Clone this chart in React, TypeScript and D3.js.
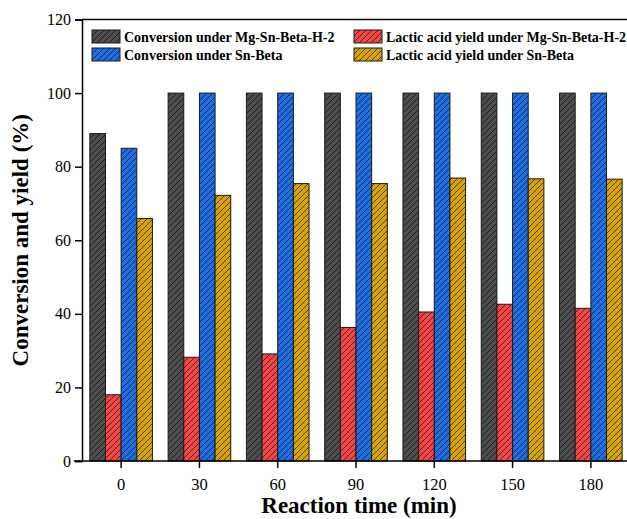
// App.tsx
import React, { useEffect, useRef } from "react";
import * as d3 from "d3";

const times = ["0", "30", "60", "90", "120", "150", "180"];
const convMg = [89, 100, 100, 100, 100, 100, 100];
const yieldMg = [18, 28.2, 29.1, 36.3, 40.5, 42.6, 41.5];
const convSn = [85, 100, 100, 100, 100, 100, 100];
const yieldSn = [65.9, 72.2, 75.4, 75.4, 76.9, 76.7, 76.6];
const yTicks = [0, 20, 40, 60, 80, 100, 120];

const seriesNames = [
  "Conversion under Mg-Sn-Beta-H-2",
  "Lactic acid yield under Mg-Sn-Beta-H-2",
  "Conversion under Sn-Beta",
  "Lactic acid yield under Sn-Beta",
];
const seriesValues = [convMg, yieldMg, convSn, yieldSn];
const colors = ["#4d4d4d", "#f44646", "#1f6fe2", "#d6a204"];

const App = () => {
  const ref = useRef<SVGSVGElement | null>(null);

  useEffect(() => {
    drawChart();
  }, []);

  const drawChart = () => {
    const width = 627;
    const left = 82;
    const top = 19.5;
    const bottom = 461;
    const right = 630;

    const svg = d3.select(ref.current);
    svg.selectAll("*").remove();

    const font = "'Liberation Serif', 'Times New Roman', serif";

    // hatch patterns, one per colour
    const defs = svg.append("defs");
    colors.forEach((c, i) => {
      const p = defs
        .append("pattern")
        .attr("id", `hatch${i}`)
        .attr("patternUnits", "userSpaceOnUse")
        .attr("width", 6)
        .attr("height", 6);
      p.append("rect").attr("width", 6).attr("height", 6).attr("fill", c);
      p.append("path")
        .attr("d", "M0,6 L6,0 M-1.5,1.5 L1.5,-1.5 M4.5,7.5 L7.5,4.5")
        .attr("stroke", "#000")
        .attr("stroke-opacity", 0.75)
        .attr("stroke-width", 0.8);
    });

    const x = d3
      .scaleBand()
      .domain(times)
      .range([left, right])
      .paddingInner(0.2)
      .paddingOuter(0.1);

    const xSub = d3
      .scaleBand()
      .domain(seriesNames)
      .range([0, x.bandwidth()])
      .padding(0);

    const y = d3.scaleLinear().domain([0, 120]).range([bottom, top]);

    // bars
    seriesValues.forEach((vals, si) => {
      svg
        .append("g")
        .selectAll("rect")
        .data(vals)
        .enter()
        .append("rect")
        .attr("x", (d, i) => (x(times[i]) as number) + (xSub(seriesNames[si]) as number))
        .attr("y", (d) => y(d))
        .attr("width", xSub.bandwidth())
        .attr("height", (d) => y(0) - y(d))
        .attr("fill", `url(#hatch${si})`)
        .attr("stroke", "#1a1a1a")
        .attr("stroke-width", 1);
    });

    // frame top line
    svg
      .append("line")
      .attr("x1", left)
      .attr("x2", width + 10)
      .attr("y1", top)
      .attr("y2", top)
      .attr("stroke", "#000")
      .attr("stroke-width", 1.5);

    // y axis
    const yAxis = svg
      .append("g")
      .attr("transform", `translate(${left},0)`)
      .call(d3.axisLeft(y).tickValues(yTicks).tickSize(7).tickPadding(4));
    yAxis.select(".domain").attr("stroke-width", 1.5);
    yAxis.selectAll(".tick line").attr("stroke-width", 1.5);
    yAxis
      .selectAll("text")
      .attr("font-family", font)
      .attr("font-size", 16)
      .attr("fill", "#000");

    // x axis
    const xAxis = svg
      .append("g")
      .attr("transform", `translate(0,${bottom})`)
      .call(d3.axisBottom(x).tickSize(7).tickSizeOuter(0).tickPadding(10));
    xAxis.select(".domain").attr("stroke-width", 1.5).attr("d", `M${left - 8},0H${width + 10}`);
    xAxis.selectAll(".tick line").attr("stroke-width", 1.5);
    xAxis
      .selectAll("text")
      .attr("font-family", font)
      .attr("font-size", 16.5)
      .attr("fill", "#000");

    // axis titles
    svg
      .append("text")
      .attr("x", 359)
      .attr("y", 513)
      .attr("text-anchor", "middle")
      .attr("font-family", font)
      .attr("font-weight", "bold")
      .attr("font-size", 23)
      .text("Reaction time (min)");

    svg
      .append("text")
      .attr("transform", `translate(28,${(top + bottom) / 2}) rotate(-90)`)
      .attr("text-anchor", "middle")
      .attr("font-family", font)
      .attr("font-weight", "bold")
      .attr("font-size", 23)
      .text("Conversion and yield (%)");

    // legend
    const legendPos = [
      [92, 30],
      [354, 30],
      [92, 48],
      [354, 48],
    ];
    seriesNames.forEach((name, i) => {
      const [lx, ly] = legendPos[i];
      const g = svg.append("g").attr("transform", `translate(${lx},${ly})`);
      g.append("rect")
        .attr("width", 28)
        .attr("height", 13)
        .attr("fill", `url(#hatch${i})`)
        .attr("stroke", "#1a1a1a")
        .attr("stroke-width", 1);
      g.append("text")
        .attr("x", 32)
        .attr("y", 12)
        .attr("font-family", font)
        .attr("font-weight", "bold")
        .attr("font-size", 14)
        .text(name);
    });
  };

  return (
    <svg
      ref={ref}
      width={627}
      height={519}
      style={{ position: "absolute", left: 0, top: 0, background: "#fff" }}
    ></svg>
  );
};

export default App;
